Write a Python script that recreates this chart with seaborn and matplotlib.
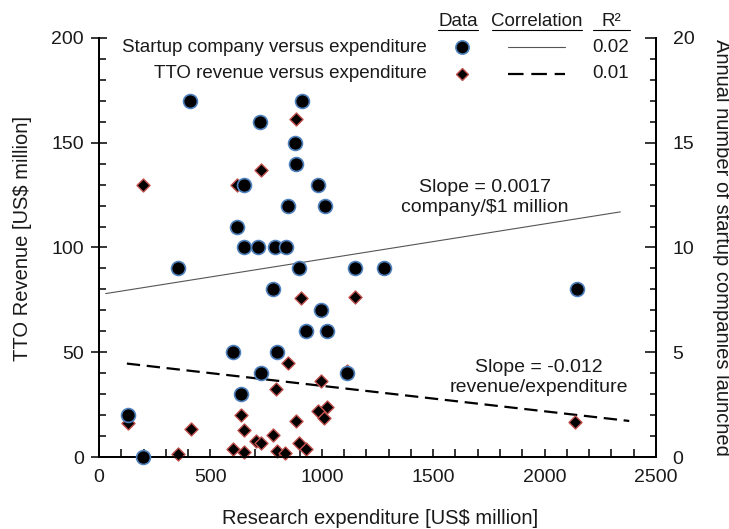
import matplotlib
matplotlib.use("Agg")
import matplotlib.pyplot as plt
import seaborn as sns
import pandas as pd
from matplotlib.lines import Line2D
from matplotlib.ticker import MultipleLocator

# Startup companies launched per year (right axis) vs research expenditure
startup_exp = [408, 912, 724, 880, 886, 652, 981, 848, 1013, 618,
               652, 712, 790, 838, 356, 899, 1149, 1279, 779, 2144,
               995, 929, 1022, 600, 799, 726, 1113, 636, 132, 196]
startup_num = [17, 17, 16, 15, 14, 13, 13, 12, 12, 11,
               10, 10, 10, 10, 9, 9, 9, 9, 8, 8,
               7, 6, 6, 5, 5, 4, 4, 3, 2, 0]

# TTO revenue (left axis) vs research expenditure
revenue_exp = [883, 726, 196, 618, 908, 1149, 850, 1113, 995, 794,
               636, 1025, 981, 1011, 886, 132, 413, 651, 779, 705,
               726, 899, 600, 929, 356, 651, 799, 836, 2136]
revenue_val = [161.5, 137, 130, 130, 76, 76.5, 45, 41, 36.5, 32.5,
               20, 24, 22, 18.5, 17, 16, 13.5, 13, 10.5, 7.5,
               6.5, 6.5, 4, 4, 1.5, 2.5, 3, 2, 16.5]

# linear fits
startup_fit_exp = [30, 2340]
startup_fit = [7.8, 11.7]
revenue_fit_exp = [125, 2380]
revenue_fit = [44.6, 17.2]

row_labels = ["Startup company versus expenditure", "TTO revenue versus expenditure"]
r2_values = ["0.02", "0.01"]

startup = pd.DataFrame({"exp": startup_exp, "num": startup_num})
revenue = pd.DataFrame({"exp": revenue_exp, "rev": revenue_val})

sns.set_style("ticks")
plt.rcParams["font.family"] = ["Liberation Sans", "DejaVu Sans"]
plt.rcParams["font.size"] = 14
plt.rcParams["text.color"] = "#1a1a1a"

W, H = 729, 529
fig = plt.figure(figsize=(W / 100, H / 100), dpi=100)
ax = fig.add_axes([99 / W, 1 - 457 / H, 557 / W, 419 / H])
ax2 = ax.twinx()

circle_kw = dict(marker="o", s=100, color="black", edgecolor="#4f81bd", linewidth=1.2)
diamond_kw = dict(marker="D", s=44, color="black", edgecolor="#c0504d", linewidth=1.0)

# revenue on left axis (drawn first, under the circles)
sns.scatterplot(data=revenue, x="exp", y="rev", ax=ax, zorder=3, clip_on=False, **diamond_kw)
sns.lineplot(x=revenue_fit_exp, y=revenue_fit, ax=ax, color="black", linewidth=1.6,
             linestyle=(0, (6, 3)))

# startup companies on right axis
sns.lineplot(x=startup_fit_exp, y=startup_fit, ax=ax2, color="#555555", linewidth=0.8)
sns.scatterplot(data=startup, x="exp", y="num", ax=ax2, zorder=3, clip_on=False, **circle_kw)

ax.set_xlim(0, 2500)
ax.set_ylim(0, 200)
ax2.set_ylim(0, 20)
ax.xaxis.set_major_locator(MultipleLocator(500))
ax.xaxis.set_minor_locator(MultipleLocator(100))
ax.yaxis.set_major_locator(MultipleLocator(50))
ax.yaxis.set_minor_locator(MultipleLocator(10))
ax2.yaxis.set_major_locator(MultipleLocator(5))
ax2.yaxis.set_minor_locator(MultipleLocator(1))

for a in (ax, ax2):
    a.set_xlabel("")
    a.set_ylabel("")
    a.spines["top"].set_visible(False)
    for s in ("left", "right", "bottom"):
        a.spines[s].set_linewidth(1.3)
        a.spines[s].set_color("black")

ax.tick_params(axis="x", which="both", direction="in", length=6, width=1.1, pad=9,
               labelsize=14, colors="black", labelcolor="#1a1a1a")
ax.tick_params(axis="y", which="major", direction="inout", length=12, width=1.1, pad=5,
               labelsize=14, colors="black", labelcolor="#1a1a1a")
ax.tick_params(axis="y", which="minor", direction="in", length=5, width=1.1, colors="black")
ax2.tick_params(axis="y", which="major", direction="in", length=8, width=1.1, pad=12,
                labelsize=14, colors="black", labelcolor="#1a1a1a")
ax2.tick_params(axis="y", which="minor", direction="in", length=4, width=1.1, colors="black")

# slope annotations
ax.text(1732, 128.7, "Slope = 0.0017", ha="center", va="center", fontsize=14)
ax.text(1732, 119, "company/\\$1 million", ha="center", va="center", fontsize=14)
ax.text(1975, 42.6, "Slope = -0.012", ha="center", va="center", fontsize=14)
ax.text(1975, 33, "revenue/expenditure", ha="center", va="center", fontsize=14)

# axis titles
fig.text(380 / W, 1 - 518 / H, "Research expenditure [US\\$ million]", ha="center",
         va="center", fontsize=14.5)
fig.text(23 / W, 1 - 238 / H, "TTO Revenue [US\\$ million]", ha="center", va="center",
         rotation=90, fontsize=14.5)
fig.text(722 / W, 1 - 247 / H, "Annual number of startup companies launched",
         ha="center", va="center", rotation=270, fontsize=14.5)

# table-style legend at the top
def fx(px):
    return px / W

def fy(py):
    return 1 - py / H

header = [("Data", 458, 438, 478), ("Correlation", 537, 492, 582), ("R²", 611, 593, 630)]
for txt, cx, x0, x1 in header:
    fig.text(fx(cx), fy(21), txt, ha="center", va="center", fontsize=13.5)
    fig.add_artist(Line2D([fx(x0), fx(x1)], [fy(30), fy(30)], color="black", linewidth=0.8))

row_y = [47, 74]
for i, (lab, r2) in enumerate(zip(row_labels, r2_values)):
    y = fy(row_y[i])
    fig.text(fx(427), y, lab, ha="right", va="center", fontsize=13.5)
    fig.text(fx(611), y, r2, ha="center", va="center", fontsize=13.5)
fig.add_artist(Line2D([fx(462)], [fy(row_y[0])], marker="o", markersize=9.5, color="black",
                      markeredgecolor="#4f81bd", markeredgewidth=1.2, linestyle="none"))
fig.add_artist(Line2D([fx(462)], [fy(row_y[1])], marker="D", markersize=6.5, color="black",
                      markeredgecolor="#c0504d", markeredgewidth=1.0, linestyle="none"))
fig.add_artist(Line2D([fx(508), fx(565)], [fy(row_y[0])] * 2, color="#555555", linewidth=0.8))
fig.add_artist(Line2D([fx(508), fx(565)], [fy(row_y[1])] * 2, color="black", linewidth=1.6,
                      linestyle=(0, (7, 3.5))))

fig.savefig("out.png", dpi=100)
